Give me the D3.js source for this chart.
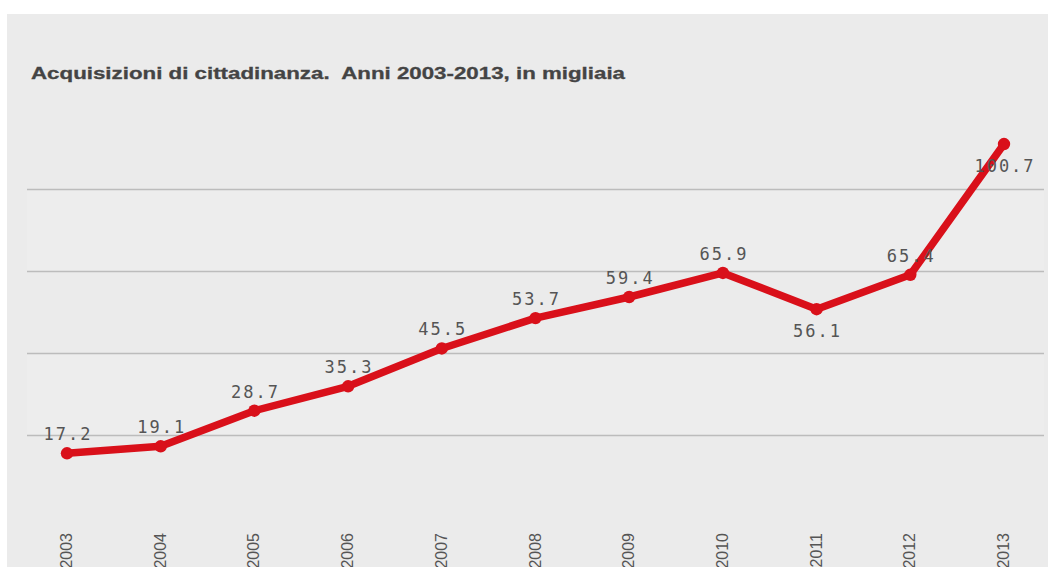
<!DOCTYPE html>
<html><head><meta charset="utf-8">
<script src="https://cdn.jsdelivr.net/npm/d3@7"></script>
<style>
html,body{margin:0;padding:0;background:#fff;}
svg{display:block;}
</style></head>
<body>
<script>
const years = ["2003","2004","2005","2006","2007","2008","2009","2010","2011","2012","2013"];
const values = [17.2, 19.1, 28.7, 35.3, 45.5, 53.7, 59.4, 65.9, 56.1, 65.4, 100.7];
const gridValues = [22.14, 44.28, 66.42, 88.56];
const yDomain = [0, 110.7];
const title = "Acquisizioni di cittadinanza.  Anni 2003-2013, in migliaia";

const W = 1048, H = 567;
const svg = d3.select("body").append("svg").attr("width", W).attr("height", H);

// background
svg.append("rect").attr("x",0).attr("y",0).attr("width",W).attr("height",H).attr("fill","#fff");
svg.append("rect").attr("x",7).attr("y",14).attr("width",W-7).attr("height",H-14).attr("fill","#ebebeb");

const x = d3.scalePoint().domain(years).range([67, 1004]);
const y = d3.scaleLinear().domain(yDomain).range([517, 107]);
const plotL = 27, plotR = 1044;

// subtle alternating bands
const bandEdges = [0].concat(gridValues);
for (let i = 0; i < bandEdges.length - 1; i++) {
  if (i % 2 === 1) {
    svg.append("rect").attr("x", plotL).attr("width", plotR - plotL)
      .attr("y", y(bandEdges[i+1])).attr("height", y(bandEdges[i]) - y(bandEdges[i+1]))
      .attr("fill", "#ededed");
  }
}

// gridlines
svg.append("g").selectAll("line").data(gridValues).join("line")
  .attr("x1", plotL).attr("x2", plotR)
  .attr("y1", d => Math.round(y(d)) + 0.5).attr("y2", d => Math.round(y(d)) + 0.5)
  .attr("stroke", "#bcbcbc").attr("stroke-width", 1.6);

// title
svg.append("text").attr("x", 31).attr("y", 79)
  .attr("font-family", "Liberation Sans, Arial, sans-serif")
  .attr("font-weight", "bold").attr("font-size", 17)
  .attr("fill", "#444")
  .attr("stroke", "#444").attr("stroke-width", 0.3)
  .attr("textLength", 594).attr("lengthAdjust", "spacingAndGlyphs")
  .style("white-space", "pre")
  .text(title);

// line
const line = d3.line().x((d,i) => x(years[i])).y(d => y(d));
svg.append("path").datum(values).attr("d", line)
  .attr("fill", "none").attr("stroke", "#d9101a").attr("stroke-width", 7.5)
  .attr("stroke-linejoin", "round").attr("stroke-linecap", "round");

svg.append("g").selectAll("circle").data(values).join("circle")
  .attr("cx", (d,i) => x(years[i])).attr("cy", d => y(d)).attr("r", 6.2)
  .attr("fill", "#d9101a");

// data labels
const maxV = d3.max(values);
function below(i) {
  const v = values[i];
  if (v === maxV) return true;
  return i > 0 && i < values.length - 1 && v < values[i-1] && v < values[i+1];
}
svg.append("g").selectAll("text").data(values).join("text")
  .attr("x", (d,i) => x(years[i]) + 1)
  .attr("y", (d,i) => y(d) + (below(i) ? 28 : -13))
  .attr("text-anchor", "middle")
  .attr("font-family", "DejaVu Sans Mono, monospace")
  .attr("font-size", 17).attr("letter-spacing", 2)
  .attr("fill", "#555")
  .text(d => d.toFixed(1));

// x axis labels (rotated)
svg.append("g").selectAll("text").data(years).join("text")
  .attr("transform", d => `translate(${x(d) + 5},533) rotate(-90)`)
  .attr("text-anchor", "end")
  .attr("font-family", "Liberation Sans, Arial, sans-serif")
  .attr("font-size", 16)
  .attr("fill", "#555")
  .text(d => d);
</script>
</body></html>
